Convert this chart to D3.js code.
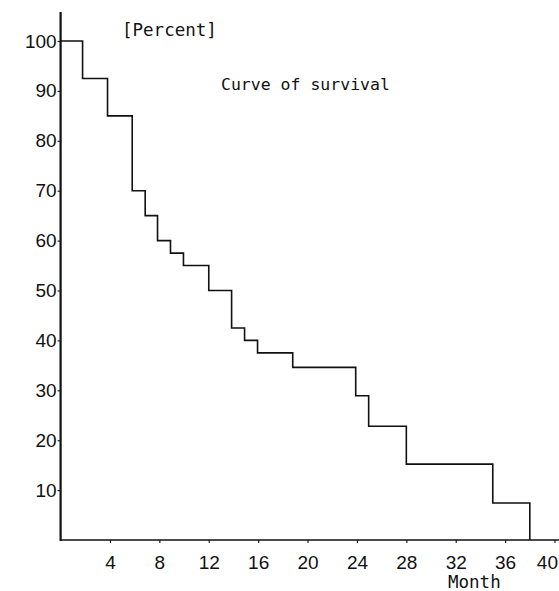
<!DOCTYPE html>
<html>
<head>
<meta charset="utf-8">
<script src="https://cdn.jsdelivr.net/npm/d3@7"></script>
<style>
  body { margin: 0; background: #fff; }
  .tick text { font-family: "Liberation Sans", Arial, sans-serif; font-size: 19px; fill: #111; }
  .mono { font-family: "DejaVu Sans Mono", "Liberation Mono", monospace; fill: #111; }
</style>
</head>
<body>
<div id="chart"></div>
<script>
// ---------------------------------------------------------
// DATA
// ---------------------------------------------------------

// month at which each step starts
var months = [0, 1.78, 3.8, 5.8, 6.85, 7.85, 8.9, 9.95, 12, 13.85, 14.9, 15.95, 18.8, 23.9, 24.95, 28, 35, 38];
// percent surviving from that month on
var survival = [100, 92.5, 85, 70, 65, 60, 57.5, 55, 50, 42.5, 40, 37.5, 34.6, 28.9, 22.8, 15.2, 7.4, 0];

var xTicks = [4, 8, 12, 16, 20, 24, 28, 32, 36, 40];
var yTicks = [10, 20, 30, 40, 50, 60, 70, 80, 90, 100];

// ---------------------------------------------------------
// SET UP
// ---------------------------------------------------------

var svgWidth = 559;
var svgHeight = 591;

var svg = d3.select("#chart")
  .append("svg")
  .attr("width", svgWidth)
  .attr("height", svgHeight);

var x = d3.scaleLinear().domain([0, 40]).range([60.6, 554.5]);
var y = d3.scaleLinear().domain([0, 100]).range([540, 41]);

var curveData = months.map((m, i) => ({ month: m, pct: survival[i] }));

// ---------------------------------------------------------
// AXES
// ---------------------------------------------------------

var xAxis = svg.append("g")
  .attr("transform", "translate(0, 540)")
  .call(d3.axisBottom(x).tickValues(xTicks).tickSize(3).tickPadding(13).tickSizeOuter(0));
xAxis.select(".domain").remove();
xAxis.selectAll(".tick line").attr("stroke", "#222").attr("stroke-width", 1.2);
// last label sits against the right edge
xAxis.selectAll(".tick text")
  .filter(d => d === 40)
  .attr("text-anchor", "end")
  .attr("dx", 3);

svg.append("line")
  .attr("x1", x(0)).attr("x2", svgWidth)
  .attr("y1", y(0)).attr("y2", y(0))
  .attr("stroke", "#111").attr("stroke-width", 1.6);

var yAxis = svg.append("g")
  .attr("transform", `translate(${x(0)}, 0)`)
  .call(d3.axisLeft(y).tickValues(yTicks).tickSize(3).tickPadding(1).tickSizeOuter(0));
yAxis.select(".domain").remove();
yAxis.selectAll(".tick line").attr("stroke", "#222").attr("stroke-width", 1.2);

// y axis runs a bit above 100
svg.append("line")
  .attr("x1", x(0)).attr("x2", x(0))
  .attr("y1", 12).attr("y2", y(0) + 1)
  .attr("stroke", "#111").attr("stroke-width", 2.2);

// ---------------------------------------------------------
// CURVE
// ---------------------------------------------------------

var stepLine = d3.line()
  .x(d => x(d.month))
  .y(d => y(d.pct))
  .curve(d3.curveStepAfter);

svg.append("path")
  .datum(curveData)
  .attr("d", stepLine)
  .attr("fill", "none")
  .attr("stroke", "#111")
  .attr("stroke-width", 1.6);

// ---------------------------------------------------------
// LABELS
// ---------------------------------------------------------

svg.append("text")
  .attr("class", "mono")
  .attr("x", 122)
  .attr("y", 36)
  .attr("font-size", "17.5px")
  .text("[Percent]");

svg.append("text")
  .attr("class", "mono")
  .attr("x", 221)
  .attr("y", 90)
  .attr("font-size", "16.5px")
  .text("Curve of survival");

svg.append("text")
  .attr("class", "mono")
  .attr("x", 448)
  .attr("y", 588)
  .attr("font-size", "17.5px")
  .text("Month");
</script>
</body>
</html>
